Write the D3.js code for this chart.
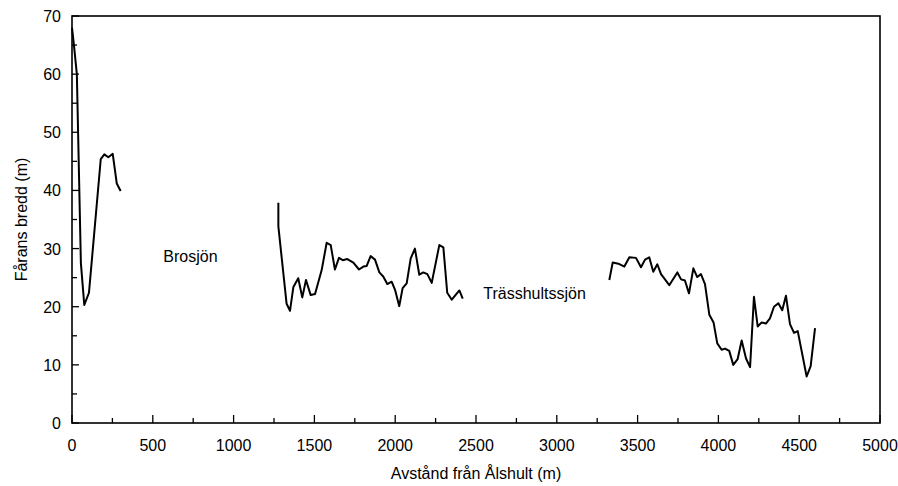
<!DOCTYPE html>
<html><head><meta charset="utf-8">
<script src="https://cdn.jsdelivr.net/npm/d3@7"></script>
<style>body{margin:0;background:#fff}svg{display:block}text{font-family:"Liberation Sans",Arial,sans-serif;fill:#000}</style>
</head><body>
<svg id="c" width="898" height="486"></svg>
<script>
const seg1 = [[0,68],[12,65],[30,60],[55,27.5],[76,20.3],[105,22.4],[178,45.4],[200,46.2],[225,45.7],[252,46.3],[277,41.2],[301,39.9]];
const seg2 = [[1277,37.9],[1277,33.8],[1328,20.5],[1349,19.3],[1370,23.4],[1400,24.9],[1425,21.6],[1448,24.6],[1477,22.0],[1504,22.2],[1545,26.3],[1576,31.0],[1601,30.6],[1627,26.4],[1652,28.4],[1675,28.0],[1704,28.2],[1741,27.6],[1776,26.4],[1803,26.9],[1823,27.0],[1848,28.7],[1875,28.1],[1902,25.9],[1926,25.2],[1951,23.9],[1978,24.3],[1999,22.9],[2025,20.1],[2046,23.2],[2071,24.0],[2096,28.3],[2122,30.0],[2149,25.5],[2174,25.9],[2199,25.6],[2226,24.1],[2273,30.6],[2298,30.2],[2322,22.4],[2350,21.2],[2397,22.8],[2418,21.4]];
const seg3 = [[3325,24.6],[3346,27.6],[3381,27.4],[3418,26.9],[3449,28.5],[3490,28.4],[3521,26.8],[3546,28.1],[3572,28.5],[3597,26.0],[3622,27.3],[3645,25.6],[3696,23.7],[3746,25.9],[3769,24.7],[3793,24.5],[3818,22.3],[3845,26.6],[3869,25.1],[3892,25.6],[3917,23.9],[3944,18.6],[3970,17.3],[3993,13.7],[4020,12.6],[4041,12.8],[4067,12.4],[4092,10.0],[4119,11.0],[4144,14.2],[4171,11.1],[4196,9.6],[4220,21.7],[4243,16.6],[4268,17.3],[4294,17.1],[4319,18.0],[4344,20.0],[4371,20.6],[4395,19.4],[4418,21.9],[4443,17.0],[4468,15.5],[4491,15.8],[4546,8.0],[4571,9.8],[4598,16.3]];
const segments = [seg1, seg2, seg3];
const xTicks = [0,500,1000,1500,2000,2500,3000,3500,4000,4500,5000];
const yTicks = [0,10,20,30,40,50,60,70];
const lakeLabels = [{name:"Brosjön", x:565, y:27.7},{name:"Trässhultssjön", x:2545, y:21.3}];

const svg = d3.select("#c");
const L=72,R=880,T=16,B=423;
const x = d3.scaleLinear().domain([0,5000]).range([L,R]);
const y = d3.scaleLinear().domain([0,70]).range([B,T]);

const xMinor = d3.range(250,5000,500);
const yMinor = d3.range(5,70,10);
const g = svg.append("g").attr("stroke","#000").attr("stroke-width",1.3);
xTicks.forEach(v=>g.append("line").attr("x1",x(v)).attr("x2",x(v)).attr("y1",B).attr("y2",B-8));
xMinor.forEach(v=>g.append("line").attr("x1",x(v)).attr("x2",x(v)).attr("y1",B).attr("y2",B-5));
yTicks.forEach(v=>g.append("line").attr("x1",L).attr("x2",L+7).attr("y1",y(v)).attr("y2",y(v)));
yMinor.forEach(v=>g.append("line").attr("x1",L).attr("x2",L+5).attr("y1",y(v)).attr("y2",y(v)));

svg.append("rect").attr("x",L).attr("y",T).attr("width",R-L).attr("height",B-T)
  .attr("fill","none").attr("stroke","#000").attr("stroke-width",1.6);

const xa = svg.append("g").attr("font-size",16).attr("text-anchor","middle");
xTicks.forEach(v=>xa.append("text").attr("x",x(v)).attr("y",B+28).text(v));
const ya = svg.append("g").attr("font-size",16).attr("text-anchor","end");
yTicks.forEach(v=>ya.append("text").attr("x",L-11).attr("y",y(v)+6).text(v));

const line = d3.line().x(d=>x(d[0])).y(d=>y(d[1]));
segments.forEach(s=>svg.append("path").attr("d",line(s)).attr("fill","none")
  .attr("stroke","#000").attr("stroke-width",2).attr("stroke-linejoin","round"));

lakeLabels.forEach(l=>svg.append("text").attr("x",x(l.x)).attr("y",y(l.y)).attr("font-size",16).text(l.name));

svg.append("text").attr("x",(L+R)/2).attr("y",479).attr("text-anchor","middle").attr("font-size",16).text("Avstånd från Ålshult (m)");
svg.append("text").attr("transform",`translate(27,${(T+B)/2}) rotate(-90)`).attr("text-anchor","middle").attr("font-size",16).text("Fårans bredd (m)");
</script>
</body></html>
